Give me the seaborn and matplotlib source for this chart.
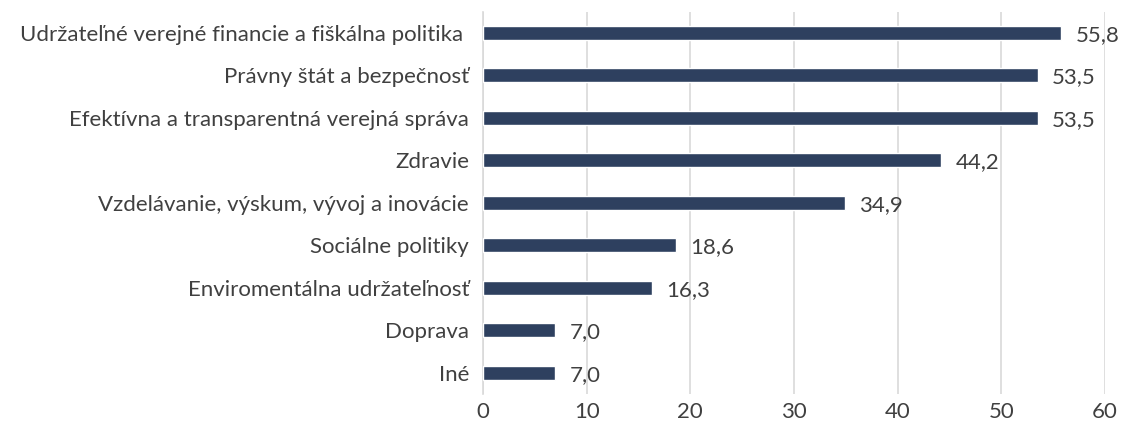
import matplotlib
matplotlib.use("Agg")
import matplotlib.pyplot as plt
import seaborn as sns
import pandas as pd

categories = [
    "Udržateľné verejné financie a fiškálna politika ",
    "Právny štát a bezpečnosť",
    "Efektívna a transparentná verejná správa",
    "Zdravie",
    "Vzdelávanie, výskum, vývoj a inovácie",
    "Sociálne politiky",
    "Enviromentálna udržateľnosť",
    "Doprava",
    "Iné",
]
values = [55.8, 53.5, 53.5, 44.2, 34.9, 18.6, 16.3, 7.0, 7.0]
x_ticks = [0, 10, 20, 30, 40, 50, 60]

df = pd.DataFrame({"kategoria": categories, "hodnota": values})

sns.set_theme(style="white")
plt.rcParams['font.family'] = ['Lato', 'DejaVu Sans']

text_color = "#404040"
bar_color = "#2E405F"
fs = 16

fig = plt.figure(figsize=(11.23, 4.33), dpi=100)
ax = fig.add_axes([0.430, 0.090, 0.554, 0.883])

sns.barplot(data=df, x="hodnota", y="kategoria", color=bar_color,
            width=0.33, saturation=1, ax=ax, zorder=3)

for i, v in enumerate(values):
    ax.text(v + 1.4, i + 0.05, f"{v:.1f}".replace(".", ","), va="center", ha="left",
            fontsize=fs, color=text_color)

ax.set_xlim(0, 60)
ax.set_ylim(len(categories) - 0.5, -0.5)
ax.set_xticks(x_ticks)
ax.set_xticklabels([str(t) for t in x_ticks], fontsize=fs, color=text_color)
ax.tick_params(axis="y", labelsize=fs, labelcolor=text_color, length=0, pad=10)
ax.tick_params(axis="x", length=0, pad=6)
ax.set_xlabel("")
ax.set_ylabel("")

ax.grid(axis="x", color="#D9D9D9", linewidth=1.2, zorder=0)
for s in ["top", "right", "bottom"]:
    ax.spines[s].set_visible(False)
ax.spines["left"].set_color("#D9D9D9")
ax.spines["left"].set_linewidth(1.2)

fig.savefig("out.png", dpi=100)
